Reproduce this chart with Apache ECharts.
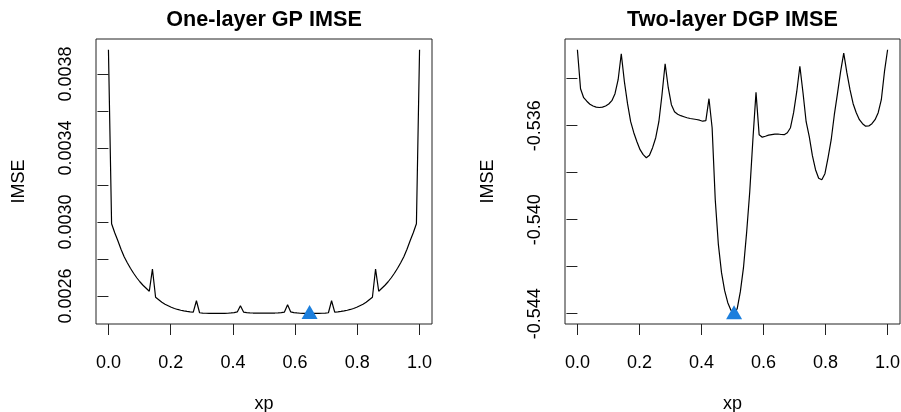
<!DOCTYPE html>
<html>
<head>
<meta charset="utf-8">
<script src="https://cdn.jsdelivr.net/npm/echarts@6/dist/echarts.min.js"></script>
<style>
html,body{margin:0;padding:0;background:#fff;}
#chart{width:901px;height:412px;}
</style>
</head>
<body>
<div id="chart"></div>
<script>
// candidate grid xp (100 points on [0,1])
var xp = [0, 0.0101, 0.0202, 0.0303, 0.0404, 0.0505, 0.0606, 0.0707, 0.0808, 0.0909,
  0.1010, 0.1111, 0.1212, 0.1313, 0.1414, 0.1515, 0.1616, 0.1717, 0.1818, 0.1919,
  0.2020, 0.2121, 0.2222, 0.2323, 0.2424, 0.2525, 0.2626, 0.2727, 0.2828, 0.2929,
  0.3030, 0.3131, 0.3232, 0.3333, 0.3434, 0.3535, 0.3636, 0.3737, 0.3838, 0.3939,
  0.4040, 0.4141, 0.4242, 0.4343, 0.4444, 0.4545, 0.4646, 0.4747, 0.4848, 0.4949,
  0.5051, 0.5152, 0.5253, 0.5354, 0.5455, 0.5556, 0.5657, 0.5758, 0.5859, 0.5960,
  0.6061, 0.6162, 0.6263, 0.6364, 0.6465, 0.6566, 0.6667, 0.6768, 0.6869, 0.6970,
  0.7071, 0.7172, 0.7273, 0.7374, 0.7475, 0.7576, 0.7677, 0.7778, 0.7879, 0.7980,
  0.8081, 0.8182, 0.8283, 0.8384, 0.8485, 0.8586, 0.8687, 0.8788, 0.8889, 0.8990,
  0.9091, 0.9192, 0.9293, 0.9394, 0.9495, 0.9596, 0.9697, 0.9798, 0.9899, 1.0000];

// One-layer GP IMSE
var gpImse = [0.0039313, 0.0029908, 0.0029421, 0.0028989, 0.0028530, 0.0028124, 0.0027800, 0.0027503, 0.0027232, 0.0026989,
  0.0026773, 0.0026584, 0.0026422, 0.0026259, 0.0027459, 0.0025935, 0.0025800, 0.0025665, 0.0025557, 0.0025476,
  0.0025395, 0.0025330, 0.0025276, 0.0025232, 0.0025195, 0.0025168, 0.0025146, 0.0025130, 0.0025746, 0.0025097,
  0.0025081, 0.0025070, 0.0025065, 0.0025062, 0.0025060, 0.0025059, 0.0025060, 0.0025063, 0.0025070, 0.0025087,
  0.0025108, 0.0025141, 0.0025476, 0.0025135, 0.0025108, 0.0025092, 0.0025083, 0.0025081, 0.0025080, 0.0025080,
  0.0025080, 0.0025081, 0.0025081, 0.0025083, 0.0025092, 0.0025108, 0.0025135, 0.0025530, 0.0025141, 0.0025108,
  0.0025087, 0.0025070, 0.0025063, 0.0025060, 0.0025057, 0.0025060, 0.0025062, 0.0025065, 0.0025070, 0.0025081,
  0.0025097, 0.0025746, 0.0025130, 0.0025146, 0.0025168, 0.0025195, 0.0025232, 0.0025276, 0.0025330, 0.0025395,
  0.0025476, 0.0025557, 0.0025665, 0.0025800, 0.0025935, 0.0027459, 0.0026259, 0.0026422, 0.0026584, 0.0026773,
  0.0026989, 0.0027232, 0.0027503, 0.0027800, 0.0028124, 0.0028530, 0.0028989, 0.0029421, 0.0029908, 0.0039313];

// Two-layer DGP IMSE
var dgpImse = [-0.532766, -0.534426, -0.534809, -0.534957, -0.535085, -0.535162, -0.535209, -0.535226, -0.535209, -0.535162,
  -0.535077, -0.534936, -0.534638, -0.534043, -0.532936, -0.534128, -0.535064, -0.535830, -0.536298, -0.536681,
  -0.537021, -0.537234, -0.537362, -0.537255, -0.536936, -0.536511, -0.535830, -0.534681, -0.533362, -0.534383,
  -0.535106, -0.535404, -0.535511, -0.535574, -0.535617, -0.535660, -0.535694, -0.535715, -0.535736, -0.535766,
  -0.535809, -0.535787, -0.534851, -0.536085, -0.539149, -0.541064, -0.542255, -0.543021, -0.543532, -0.543851,
  -0.544000, -0.543787, -0.543064, -0.542043, -0.540553, -0.538809, -0.536596, -0.534583, -0.536383, -0.536489,
  -0.536447, -0.536404, -0.536383, -0.536362, -0.536353, -0.536374, -0.536383, -0.536298, -0.536085, -0.535447,
  -0.534553, -0.533468, -0.534596, -0.535830, -0.536468, -0.537277, -0.537872, -0.538234, -0.538298, -0.538043,
  -0.537362, -0.536596, -0.535532, -0.534638, -0.533702, -0.532915, -0.533745, -0.534468, -0.535064, -0.535447,
  -0.535745, -0.535915, -0.536021, -0.536013, -0.535915, -0.535745, -0.535447, -0.534894, -0.533702, -0.532766];

// selected (minimum IMSE) points
var gpBest = [0.6465, 0.0025057];
var dgpBest = [0.5051, -0.544000];

// axis ticks and labels
var xTicks = [0, 0.2, 0.4, 0.6, 0.8, 1.0];
var gpYTicks = [0.0026, 0.0028, 0.0030, 0.0032, 0.0034, 0.0036, 0.0038];
var gpYLabels = [0.0026, 0.0030, 0.0034, 0.0038];
var dgpYTicks = [-0.544, -0.542, -0.540, -0.538, -0.536, -0.534];
var dgpYLabels = [-0.544, -0.540, -0.536];

var titles = ['One-layer GP IMSE', 'Two-layer DGP IMSE'];
var xName = 'xp';
var yName = 'IMSE';

var FONT = '"Liberation Sans", Arial, Helvetica, sans-serif';
var INK = '#000';

function pairs(xs, ys) {
  return xs.map(function (x, i) { return [x, ys[i]]; });
}

function xAxisCfg(gi) {
  return {
    type: 'value', gridIndex: gi, min: -0.04, max: 1.04,
    name: xName, nameLocation: 'middle', nameGap: 71,
    nameTextStyle: { fontFamily: FONT, fontSize: 18, color: INK },
    axisLine: { show: false },
    axisTick: { show: true, length: 11, customValues: xTicks, lineStyle: { color: '#222', width: 1 } },
    axisLabel: { customValues: xTicks, margin: 30, fontFamily: FONT, fontSize: 18, color: INK,
      formatter: function (v) { return v.toFixed(1); } },
    splitLine: { show: false }
  };
}

function yAxisCfg(gi, mn, mx, ticks, labels, dec) {
  return {
    type: 'value', gridIndex: gi, min: mn, max: mx,
    name: yName, nameLocation: 'middle', nameGap: 68,
    nameTextStyle: { fontFamily: FONT, fontSize: 18, color: INK },
    axisLine: { show: false },
    axisTick: { show: true, length: 11, customValues: ticks, lineStyle: { color: '#222', width: 1 } },
    axisLabel: { customValues: labels, rotate: 90, margin: 21, fontFamily: FONT, fontSize: 18, color: INK,
      formatter: function (v) { return v.toFixed(dec); } },
    splitLine: { show: false }
  };
}

var chart = echarts.init(document.getElementById('chart'), null, { renderer: 'canvas' });
chart.setOption({
  animation: false,
  backgroundColor: '#fff',
  grid: [
    { left: 96, top: 39, width: 336, height: 285, outerBoundsMode: 'none', containLabel: false, show: true, borderColor: '#222', borderWidth: 1, backgroundColor: 'transparent' },
    { left: 565, top: 39, width: 335, height: 285, outerBoundsMode: 'none', containLabel: false, show: true, borderColor: '#222', borderWidth: 1, backgroundColor: 'transparent' }
  ],
  graphic: [
    { type: 'text', x: 264, y: 20, style: { text: titles[0], fontFamily: FONT, fontSize: 21.6, fontWeight: 'bold', fill: INK, align: 'center', verticalAlign: 'middle' } },
    { type: 'text', x: 732.5, y: 20, style: { text: titles[1], fontFamily: FONT, fontSize: 21.6, fontWeight: 'bold', fill: INK, align: 'center', verticalAlign: 'middle' } }
  ],
  xAxis: [xAxisCfg(0), xAxisCfg(1)],
  yAxis: [
    yAxisCfg(0, 0.002449, 0.003989, gpYTicks, gpYLabels, 4),
    yAxisCfg(1, -0.54444, -0.53231, dgpYTicks, dgpYLabels, 3)
  ],
  series: [
    { type: 'line', xAxisIndex: 0, yAxisIndex: 0, data: pairs(xp, gpImse), showSymbol: false, silent: true,
      lineStyle: { color: '#000', width: 1.2 } },
    { type: 'scatter', xAxisIndex: 0, yAxisIndex: 0, data: [gpBest], symbol: 'triangle', symbolSize: [16, 14], symbolOffset: [0, -1.5],
      itemStyle: { color: '#1C7FDD', opacity: 1 }, silent: true, z: 5 },
    { type: 'line', xAxisIndex: 1, yAxisIndex: 1, data: pairs(xp, dgpImse), showSymbol: false, silent: true,
      lineStyle: { color: '#000', width: 1.2 } },
    { type: 'scatter', xAxisIndex: 1, yAxisIndex: 1, data: [dgpBest], symbol: 'triangle', symbolSize: [16, 14], symbolOffset: [0, -1.5],
      itemStyle: { color: '#1C7FDD', opacity: 1 }, silent: true, z: 5 }
  ]
});
</script>
</body>
</html>
